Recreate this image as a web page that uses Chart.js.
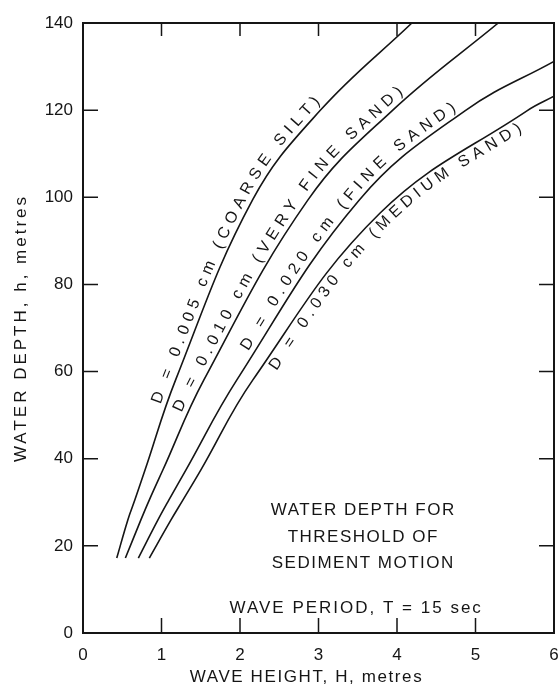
<!DOCTYPE html>
<html>
<head>
<meta charset="utf-8">
<script src="https://cdn.jsdelivr.net/npm/chart.js@4/dist/chart.umd.min.js"></script>
<style>
html,body{margin:0;padding:0;background:#fff;}
#wrap{width:559px;height:687px;position:relative;}
canvas{display:block;}
</style>
</head>
<body>
<div id="wrap"><canvas id="c" width="559" height="687"></canvas></div>
<script>
// ---- data ----
const xTicks = [0, 1, 2, 3, 4, 5, 6];
const yTicks = [0, 20, 40, 60, 80, 100, 120, 140];

// wave height H (m) and water depth h (m) along each threshold curve
const hCoarseSilt = [0.43, 0.57, 0.66, 0.79, 1.18, 2.16, 3.02, 4.19];
const dCoarseSilt = [17.2, 25.9, 30.5, 37.4, 58.1, 99.4, 119.9, 140];

const hVeryFineSand = [0.54, 0.736, 0.844, 1.017, 1.54, 2.866, 3.94, 5.29];
const dVeryFineSand = [17.2, 25.9, 30.5, 37.4, 58.1, 99.4, 119.9, 140];

const hFineSand = [0.705, 0.953, 1.093, 1.31, 1.96, 3.52, 4.87, 6.0];
const dFineSand = [17.2, 25.9, 30.5, 37.4, 58.1, 99.4, 119.9, 131.2];

const hMediumSand = [0.845, 1.119, 1.272, 1.50, 2.164, 3.785, 5.66, 6.0];
const dMediumSand = [17.2, 25.9, 30.5, 37.4, 58.1, 96.4, 119.9, 123.2];

const curveLabels = [
  'D = 0.005 cm (COARSE SILT)',
  'D = 0.010 cm (VERY FINE SAND)',
  'D = 0.020 cm (FINE SAND)',
  'D = 0.030 cm (MEDIUM SAND)'
];
// depth range along each curve that its label spans, and which side it sits on
const labelFrom = [52, 50, 64, 62];
const labelTo = [121, 123, 119, 118];
const labelSide = [1, 1, 1, -1];

const noteLines = ['WATER DEPTH FOR', 'THRESHOLD OF', 'SEDIMENT MOTION', 'WAVE PERIOD, T = 15 sec'];
const noteH = [3.57, 3.57, 3.57, 3.48];
const noteD = [28.2, 22.0, 16.1, 5.7];

const xTitle = 'WAVE HEIGHT, H, metres';
const yTitle = 'WATER DEPTH, h, metres';

// ---- build ----
function pts(hs, ds){ return hs.map((h,i)=>({x:h, y:ds[i]})); }
const series = [
  pts(hCoarseSilt, dCoarseSilt),
  pts(hVeryFineSand, dVeryFineSand),
  pts(hFineSand, dFineSand),
  pts(hMediumSand, dMediumSand)
];

const INK = '#151515';
const FONT = '"Liberation Sans", Arial, sans-serif';
const noteSpacing = ['1.5px', '1.5px', '1.5px', '2px'];

function samplePath(meta){
  const p = meta.data, out = [];
  for (let i = 0; i < p.length - 1; i++){
    const a = p[i], b = p[i+1];
    const c1x = a.cp2x ?? a.x, c1y = a.cp2y ?? a.y;
    const c2x = b.cp1x ?? b.x, c2y = b.cp1y ?? b.y;
    for (let k = 0; k < 30; k++){
      const t = k/30, u = 1-t;
      out.push({
        x: u*u*u*a.x + 3*u*u*t*c1x + 3*u*t*t*c2x + t*t*t*b.x,
        y: u*u*u*a.y + 3*u*u*t*c1y + 3*u*t*t*c2y + t*t*t*b.y
      });
    }
  }
  const l = p[p.length-1]; out.push({x:l.x, y:l.y});
  let s = 0; out[0].s = 0;
  for (let i = 1; i < out.length; i++){
    s += Math.hypot(out[i].x-out[i-1].x, out[i].y-out[i-1].y);
    out[i].s = s;
  }
  return out;
}
function arcAtY(path, yPix){
  for (let i = 1; i < path.length; i++){
    if (path[i].y <= yPix){
      const a = path[i-1], b = path[i];
      const f = (a.y - yPix)/((a.y - b.y) || 1);
      return a.s + f*(b.s - a.s);
    }
  }
  return path[path.length-1].s;
}
function pointAt(path, s){
  for (let i = 1; i < path.length; i++){
    if (path[i].s >= s){
      const a = path[i-1], b = path[i];
      const f = (s - a.s)/((b.s - a.s) || 1);
      return {x:a.x + f*(b.x-a.x), y:a.y + f*(b.y-a.y), dx:b.x-a.x, dy:b.y-a.y};
    }
  }
  const a = path[path.length-2], b = path[path.length-1];
  return {x:b.x, y:b.y, dx:b.x-a.x, dy:b.y-a.y};
}

const decor = {
  id: 'decor',
  afterDraw(chart){
    const ctx = chart.ctx, xs = chart.scales.x, ys = chart.scales.y, ca = chart.chartArea;
    ctx.save();
    ctx.strokeStyle = INK; ctx.fillStyle = INK;
    // top & right frame
    ctx.lineWidth = 2;
    ctx.beginPath();
    ctx.moveTo(ca.left, ca.top); ctx.lineTo(ca.right, ca.top); ctx.lineTo(ca.right, ca.bottom);
    ctx.stroke();
    // inward ticks
    ctx.lineWidth = 1.5;
    ctx.beginPath();
    xTicks.forEach(v => {
      if (v === xs.min || v === xs.max) return;
      const x = xs.getPixelForValue(v);
      ctx.moveTo(x, ca.bottom); ctx.lineTo(x, ca.bottom - 15);
      ctx.moveTo(x, ca.top); ctx.lineTo(x, ca.top + 13);
    });
    yTicks.forEach(v => {
      if (v === ys.min || v === ys.max) return;
      const y = ys.getPixelForValue(v);
      ctx.moveTo(ca.left, y); ctx.lineTo(ca.left + 15, y);
      ctx.moveTo(ca.right, y); ctx.lineTo(ca.right - 15, y);
    });
    ctx.stroke();

    // axis titles
    ctx.font = '17px ' + FONT;
    ctx.textAlign = 'center'; ctx.textBaseline = 'middle';
    ctx.letterSpacing = '1.6px';
    ctx.fillText(xTitle, (ca.left + ca.right)/2 - 12, 677);
    ctx.save();
    ctx.translate(21, (ca.top + ca.bottom)/2);
    ctx.rotate(-Math.PI/2);
    ctx.letterSpacing = '3px';
    ctx.fillText(yTitle, 0, 0);
    ctx.restore();

    // note block
    noteLines.forEach((t, i) => {
      ctx.letterSpacing = noteSpacing[i];
      ctx.fillText(t, xs.getPixelForValue(noteH[i]), ys.getPixelForValue(noteD[i]));
    });

    // curve labels along the curves
    ctx.letterSpacing = '0px';
    ctx.font = '16px ' + FONT;
    series.forEach((_, di) => {
      const meta = chart.getDatasetMeta(di);
      const path = samplePath(meta);
      const s0 = arcAtY(path, ys.getPixelForValue(labelFrom[di]));
      const s1 = arcAtY(path, ys.getPixelForValue(labelTo[di]));
      const chars = [...curveLabels[di]];
      const w = chars.map(c => ctx.measureText(c).width);
      const tot = w.reduce((a,b)=>a+b, 0);
      const gap = (s1 - s0 - tot)/(chars.length - 1);
      let s = s0;
      chars.forEach((c, i) => {
        const p = pointAt(path, s + w[i]/2);
        const len = Math.hypot(p.dx, p.dy) || 1;
        const nx = p.dy/len*labelSide[di], ny = -p.dx/len*labelSide[di];
        ctx.save();
        ctx.translate(p.x + nx*10, p.y + ny*10);
        ctx.rotate(Math.atan2(p.dy, p.dx));
        ctx.fillText(c, 0, 0);
        ctx.restore();
        s += w[i] + gap;
      });
    });
    ctx.restore();
  }
};

const hidden = 'rgba(0,0,0,0)';
new Chart(document.getElementById('c'), {
  type: 'line',
  data: {
    datasets: series.map((d, i) => ({
      label: curveLabels[i],
      data: d,
      borderColor: INK,
      borderWidth: 1.6,
      pointRadius: 0,
      fill: false,
      tension: 0.4
    }))
  },
  options: {
    responsive: false,
    animation: false,
    devicePixelRatio: 1,
    layout: { padding: { left: 0, right: 5, top: 23, bottom: 0 } },
    plugins: { legend: { display: false }, tooltip: { enabled: false } },
    scales: {
      x: {
        type: 'linear', min: 0, max: 6,
        afterFit: s => { s.height = 54; },
        afterBuildTicks: s => { s.ticks = xTicks.map(v => ({value: v})); },
        ticks: { color: INK, font: { family: FONT, size: 17 }, padding: 0, maxRotation: 0 },
        grid: { display: true, drawOnChartArea: false, drawTicks: true, tickLength: 12, tickColor: hidden },
        border: { display: true, color: INK, width: 2 }
      },
      y: {
        type: 'linear', min: 0, max: 140,
        afterFit: s => { s.width = 83; },
        afterBuildTicks: s => { s.ticks = yTicks.map(v => ({value: v})); },
        ticks: { color: INK, font: { family: FONT, size: 17 }, padding: 0 },
        grid: { display: true, drawOnChartArea: false, drawTicks: true, tickLength: 10, tickColor: hidden },
        border: { display: true, color: INK, width: 2 }
      }
    }
  },
  plugins: [decor]
});
</script>
</body>
</html>
